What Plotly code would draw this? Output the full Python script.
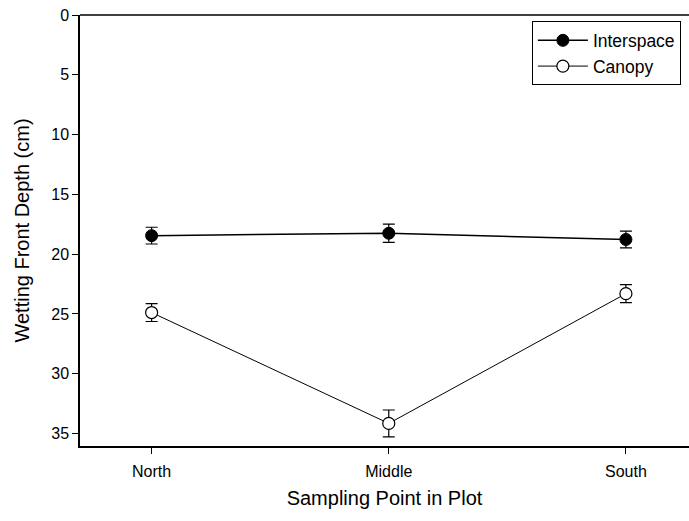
import plotly.graph_objects as go

sites = ["North", "Middle", "South"]
interspace = [18.45, 18.25, 18.77]
interspace_err = [0.7, 0.77, 0.7]
canopy = [24.88, 34.15, 23.3]
canopy_err = [0.75, 1.12, 0.75]

fig = go.Figure()
fig.add_trace(go.Scatter(
    x=sites, y=interspace, name="Interspace", mode="lines+markers",
    line=dict(color="black", width=1.5),
    marker=dict(symbol="circle", size=12, color="black", line=dict(color="black", width=1)),
    error_y=dict(type="data", array=interspace_err, color="black", thickness=1.2, width=6),
))
fig.add_trace(go.Scatter(
    x=sites, y=canopy, name="Canopy", mode="lines+markers",
    line=dict(color="black", width=1),
    marker=dict(symbol="circle", size=12, color="white", line=dict(color="black", width=1.2)),
    error_y=dict(type="data", array=canopy_err, color="black", thickness=1.2, width=6),
))

# top frame line (axis border only)
fig.add_shape(type="line", xref="paper", yref="paper", x0=0, x1=1, y0=1, y1=1,
              line=dict(color="black", width=1.5), layer="above")

font_family = "Liberation Sans, Arial, sans-serif"
fig.update_layout(
    width=689, height=521,
    margin=dict(l=80, r=0, t=15, b=75),
    paper_bgcolor="white", plot_bgcolor="white",
    font=dict(family=font_family, color="black", size=16),
    showlegend=True,
    legend=dict(x=0.742, y=0.985, xanchor="left", yanchor="top",
                bordercolor="black", borderwidth=1, bgcolor="white",
                itemwidth=50,
                font=dict(size=17.5, family=font_family)),
    xaxis=dict(
        type="category", range=[-0.302, 2.266],
        showline=True, linecolor="black", linewidth=2, mirror=False,
        ticks="outside", ticklen=6, tickcolor="black", tickwidth=1,
        showgrid=False, zeroline=False,
        tickfont=dict(size=16), ticklabelstandoff=4,
        title=dict(text="Sampling Point in Plot", font=dict(size=20), standoff=12),
    ),
    yaxis=dict(
        range=[36.04, 0], tickvals=[0, 5, 10, 15, 20, 25, 30, 35],
        showline=True, linecolor="black", linewidth=1.5, mirror=False,
        ticks="outside", ticklen=6, tickcolor="black", tickwidth=1,
        showgrid=False, zeroline=False,
        tickfont=dict(size=16),
        title=dict(text="Wetting Front Depth (cm)", font=dict(size=20), standoff=16),
    ),
)

fig.write_html("out.html")
